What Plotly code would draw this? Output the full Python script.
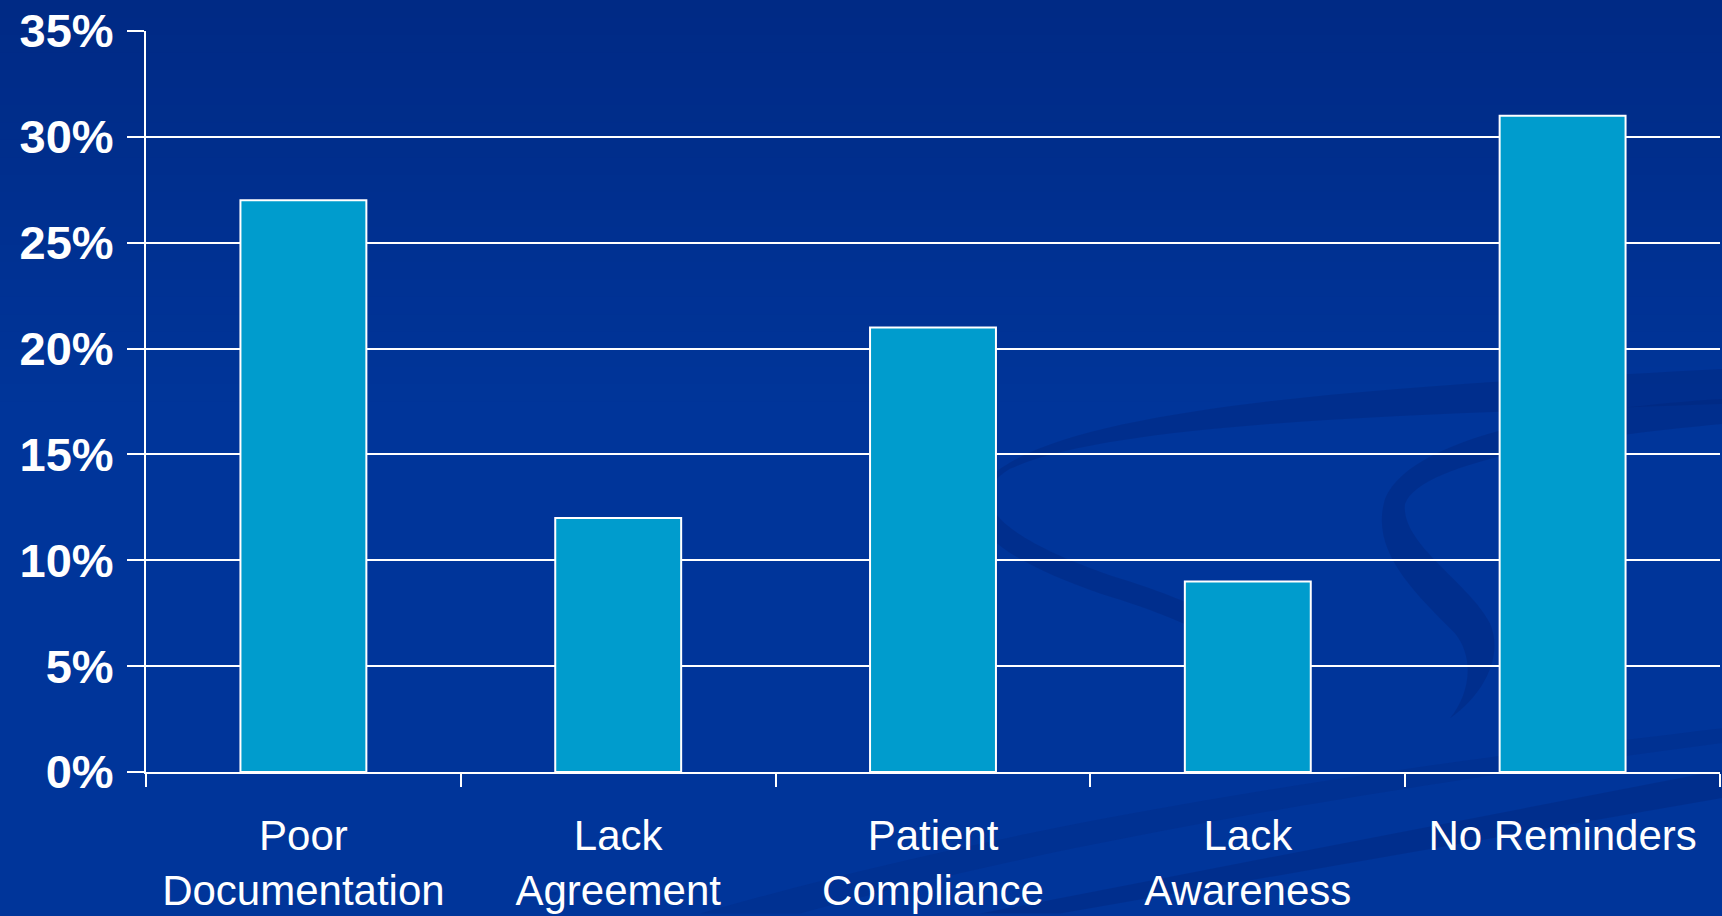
import plotly.graph_objects as go

# Survey results: share of respondents citing each barrier
categories = ["Poor<br>Documentation", "Lack<br>Agreement", "Patient<br>Compliance",
              "Lack<br>Awareness", "No Reminders"]
shares = [27, 12, 21, 9, 31]
y_ticks = [0, 5, 10, 15, 20, 25, 30, 35]
y_tick_labels = [f"{v}%" for v in y_ticks]

W, H = 1722, 916
M_L, M_R, M_T, M_B = 146, 2, 31, 142
PW, PH = W - M_L - M_R, H - M_T - M_B


def px(x, y):
    """Convert page pixel position to paper coordinates."""
    return (x - M_L) / PW, (H - M_B - y) / PH


def path(cmds):
    out = []
    for c in cmds:
        op, pts = c[0], c[1:]
        coords = " ".join("%.4f,%.4f" % px(*p) for p in pts)
        out.append(op + coords)
    return " ".join(out) + " Z"


shapes = []

# background: vertical gradient from deep navy at the top to royal blue
top_rgb, bot_rgb = (0, 42, 133), (0, 53, 154)
n_bands = 24
band_h = 420 / n_bands
for i in range(n_bands):
    t = i / (n_bands - 1)
    r = round(top_rgb[0] + (bot_rgb[0] - top_rgb[0]) * t)
    g = round(top_rgb[1] + (bot_rgb[1] - top_rgb[1]) * t)
    b = round(top_rgb[2] + (bot_rgb[2] - top_rgb[2]) * t)
    x0, y0 = px(0, i * band_h)
    x1, y1 = px(W, (i + 1) * band_h + 1)
    shapes.append(dict(type="rect", xref="paper", yref="paper", layer="below",
                       x0=x0, x1=x1, y0=y0, y1=y1, line_width=0,
                       fillcolor=f"rgb({r},{g},{b})"))

swoosh = "rgba(0,36,120,0.38)"
swoosh_light = "rgba(0,36,120,0.24)"

# large sweeping arc in the lower right
shapes.append(dict(type="path", xref="paper", yref="paper", layer="below",
                   fillcolor=swoosh, line_width=0,
                   path=path([
                       ("M", (1722, 405)),
                       ("C", (1450, 415), (1120, 420), (1010, 470)),
                       ("C", (960, 500), (1000, 540), (1120, 580)),
                       ("C", (1280, 630), (1300, 680), (1240, 715)),
                       ("C", (1270, 680), (1250, 640), (1100, 595)),
                       ("C", (1000, 560), (940, 520), (1000, 470)),
                       ("C", (1100, 400), (1450, 385), (1722, 370)),
                   ])))

# smaller arc near the right edge
shapes.append(dict(type="path", xref="paper", yref="paper", layer="below",
                   fillcolor=swoosh, line_width=0,
                   path=path([
                       ("M", (1722, 425)),
                       ("C", (1560, 440), (1420, 465), (1405, 505)),
                       ("C", (1400, 545), (1470, 585), (1490, 625)),
                       ("C", (1505, 660), (1480, 700), (1450, 720)),
                       ("C", (1470, 695), (1475, 660), (1455, 635)),
                       ("C", (1410, 590), (1370, 550), (1385, 500)),
                       ("C", (1410, 440), (1560, 410), (1722, 400)),
                   ])))

# long diagonal band across the bottom
shapes.append(dict(type="path", xref="paper", yref="paper", layer="below",
                   fillcolor=swoosh, line_width=0,
                   path=path([
                       ("M", (980, 916)),
                       ("L", (1722, 772)),
                       ("L", (1722, 800)),
                       ("L", (1060, 916)),
                   ])))
shapes.append(dict(type="path", xref="paper", yref="paper", layer="below",
                   fillcolor=swoosh_light, line_width=0,
                   path=path([
                       ("M", (700, 916)),
                       ("C", (1000, 830), (1300, 780), (1722, 730)),
                       ("L", (1722, 745)),
                       ("C", (1300, 800), (1000, 860), (800, 916)),
                   ])))

fig = go.Figure(go.Bar(
    x=categories,
    y=shares,
    marker=dict(color="#009ccd", line=dict(color="white", width=2)),
    hoverinfo="skip",
))

fig.update_layout(
    width=W, height=H,
    margin=dict(l=M_L, r=M_R, t=M_T, b=M_B, pad=0),
    paper_bgcolor="#00359a",
    plot_bgcolor="rgba(0,0,0,0)",
    bargap=0.6,
    showlegend=False,
    shapes=shapes,
    font=dict(family="Liberation Sans, Arial, sans-serif", color="white"),
)

fig.update_xaxes(
    type="category",
    tickson="boundaries",
    ticks="outside", ticklen=13, tickwidth=2, tickcolor="white",
    showline=True, linecolor="white", linewidth=2,
    showgrid=False,
    tickfont=dict(size=42, color="white"),
    ticklabelstandoff=26,
)

fig.update_yaxes(
    range=[0, 35],
    tickvals=y_ticks, ticktext=y_tick_labels,
    ticks="outside", ticklen=17, tickwidth=2, tickcolor="white",
    showline=True, linecolor="white", linewidth=2,
    showgrid=True, gridcolor="white", gridwidth=2,
    zeroline=False,
    tickfont=dict(size=47, color="white", weight="bold"),
    ticklabelstandoff=4,
)

fig.write_html("out.html")
